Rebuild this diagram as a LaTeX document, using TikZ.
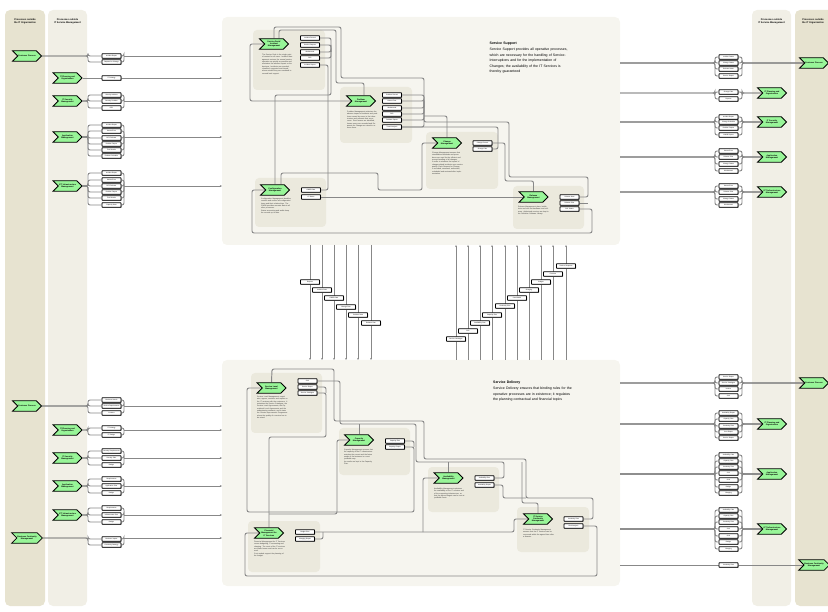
\documentclass[tikz,border=0pt]{standalone}
\usepackage{fontspec}
\setmainfont{Liberation Sans}
\usetikzlibrary{shapes.symbols,shadows,arrows.meta}

\definecolor{orglane}{HTML}{E7E3D0}
\definecolor{itsmlane}{HTML}{F1EFE6}
\definecolor{areafill}{HTML}{F6F5EF}
\definecolor{groupfill}{HTML}{EBE9DD}
\definecolor{procgreen}{HTML}{98F598}
\definecolor{flowgray}{HTML}{888888}

\pgfdeclarelayer{back}
\pgfdeclarelayer{lines}
\pgfsetlayers{back,lines,main}

\tikzset{
  proc/.style={signal, signal to=east, signal from=west, draw=black,
    line width=0.8pt, fill=procgreen, minimum width=29pt, minimum height=10.5pt,
    inner sep=0.4pt, align=center, font=\fontsize{2}{2.4}\selectfont\bfseries},
  doc/.style={draw=black, line width=0.85pt, fill=white, rounded corners=0.6pt,
    minimum width=19pt, minimum height=4.6pt, inner sep=0.2pt, text width=17pt,
    align=center, font=\fontsize{1.6}{1.8}\selectfont,
    drop shadow={shadow xshift=0.5pt, shadow yshift=-0.6pt, fill=black!50, opacity=1}},
  flow/.style={draw=flowgray, line width=0.95pt, rounded corners=2pt},
  feed/.style={flow, -{Stealth[length=2.2pt, width=2pt]}},
  pass/.style={draw=flowgray, line width=0.7pt, -{Stealth[length=2pt, width=1.8pt]}},
  note/.style={anchor=north west, text width=31pt, inner sep=0pt, align=left,
    text=black!80, font=\fontsize{1.8}{2.35}\selectfont},
  lanehead/.style={anchor=north, align=center, font=\fontsize{2.4}{2.9}\selectfont\bfseries},
  lane/.style={rounded corners=5pt},
  group/.style={fill=groupfill, rounded corners=4pt},
  area/.style={fill=areafill, rounded corners=5pt},
  intro/.style={anchor=north west, text width=100pt, inner sep=0pt, align=left,
    font=\fontsize{3.5}{5.5}\selectfont}
}

\begin{document}
\begin{tikzpicture}[x=1pt, y=-1pt]
\useasboundingbox (0,0) rectangle (828,612);

\begin{pgfonlayer}{back}
  % lanes
  \fill[orglane, lane] (5,10) rectangle (45,606);
  \fill[itsmlane, lane] (48,10) rectangle (87,606);
  \fill[itsmlane, lane] (752,10) rectangle (791,606);
  \fill[orglane, lane] (795,10) rectangle (836,606);
  % support and delivery areas
  \fill[area] (222,17) rectangle (620,245);
  \fill[area] (222,360) rectangle (620,586);
  % process groups
  \fill[group] (253,30) rectangle (325,90);
  \fill[group] (340,87) rectangle (412,143);
  \fill[group] (426,132) rectangle (498,189);
  \fill[group] (255,178) rectangle (326,227);
  \fill[group] (513,186) rectangle (584,229);
  \fill[group] (251,373) rectangle (322,433);
  \fill[group] (339,428) rectangle (410,475);
  \fill[group] (428,467) rectangle (499,512);
  \fill[group] (517,507) rectangle (589,552);
  \fill[group] (248,521) rectangle (320,572);
\end{pgfonlayer}

\node[lanehead] (hdA) at (25,15) {Processes outside\\the IT Organisation};
\node[lanehead] (hdB) at (67.5,15) {Processes outside\\IT Service Management};
\node[lanehead] (hdC) at (771.5,15) {Processes outside\\IT Service Management};
\node[lanehead] (hdD) at (813,15) {Processes outside\\the IT Organisation};

% processes outside, left
\node[proc] (custA) at (27,56) {Customer Process};
\node[proc] (itpA) at (67.5,78) {IT Planning and\\Organisation};
\node[proc] (secA) at (67.5,101) {IT Security\\Management};
\node[proc] (appA) at (67.5,137) {Application\\Management};
\node[proc] (ictA) at (67.5,186) {ICT Infrastructure\\Management};
\node[proc] (custB) at (27,406) {Customer Process};
\node[proc] (itpB) at (67.5,430) {IT Planning and\\Organisation};
\node[proc] (secB) at (67.5,458) {IT Security\\Management};
\node[proc] (appB) at (67.5,486) {Application\\Management};
\node[proc] (ictB) at (67.5,515) {ICT Infrastructure\\Management};
\node[proc] (bcmB) at (27,538) {Business Continuity\\Management};
% processes outside, right
\node[proc] (custC) at (814,63) {Customer Process};
\node[proc] (itpC) at (772,93) {IT Planning and\\Organisation};
\node[proc] (secC) at (772,122) {IT Security\\Management};
\node[proc] (appC) at (772,157) {Application\\Management};
\node[proc] (ictC) at (772,192) {ICT Infrastructure\\Management};
\node[proc] (custD) at (814,383) {Customer Process};
\node[proc] (itpD) at (772,424) {IT Planning and\\Organisation};
\node[proc] (appD) at (772,474) {Application\\Management};
\node[proc] (ictD) at (772,529) {ICT Infrastructure\\Management};
\node[proc] (bcmD) at (814,565) {Business Continuity\\Management};

% documents going in, left
\foreach \y/\t [count=\i] in {56/Incident Report,62/Request for Change}
  \node[doc] (ca\i) at (111.5,\y) {\t};
\node[doc] (ia1) at (111.5,78) {IT Strategy};
\foreach \y/\t [count=\i] in {95/Security Incident,101/Security Problem,108/RFC}
  \node[doc] (sa\i) at (111.5,\y) {\t};
\foreach \y/\t [count=\i] in {125/Incident Report,131/Known Error,138/RFC Release,144/Problem Report,150/Test Results,156/Release Schedule}
  \node[doc] (aa\i) at (111.5,\y) {\t};
\foreach \y/\t [count=\i] in {173/Incident Report,180/Known Error,186/RFC Release,192/Problem Report,198/Test Results,205/Capacity Data}
  \node[doc] (ta\i) at (111.5,\y) {\t};
\foreach \y/\t [count=\i] in {400/Business Needs,406/Service Requirements,413/Contract}
  \node[doc] (cb\i) at (111.5,\y) {\t};
\foreach \y/\t [count=\i] in {428/IT Strategy,435/IT Budget}
  \node[doc] (ib\i) at (111.5,\y) {\t};
\foreach \y/\t [count=\i] in {451/Security Requirements,458/Security Plan,465/Budget}
  \node[doc] (sb\i) at (111.5,\y) {\t};
\foreach \y/\t [count=\i] in {479/Requirements,486/Application Plan,493/Budget}
  \node[doc] (ab\i) at (111.5,\y) {\t};
\foreach \y/\t [count=\i] in {508/Requirements,515/Infrastructure Plan,522/Budget}
  \node[doc] (tb\i) at (111.5,\y) {\t};
\foreach \y/\t [count=\i] in {539/Business Impact,545/Continuity Strategy}
  \node[doc] (bb\i) at (111.5,\y) {\t};

% documents going out, right
\foreach \y/\t [count=\i] in {57/Incident Status,63/Change Status,69/Release Notes,76/Service Report}
  \node[doc] (cc\i) at (728.5,\y) {\t};
\foreach \y/\t [count=\i] in {92/Change Plan,99/Reports}
  \node[doc] (ic\i) at (728.5,\y) {\t};
\foreach \y/\t [count=\i] in {117/Incident Report,122/Change Schedule,128/Problem Report,135/CMDB Report}
  \node[doc] (sc\i) at (728.5,\y) {\t};
\foreach \y/\t [count=\i] in {151/Known Error,157/Release Plan,164/Change Status,171/Workaround}
  \node[doc] (ac\i) at (728.5,\y) {\t};
\foreach \y/\t [count=\i] in {186/Known Error,192/Release Plan,199/Change Status,205/Workaround}
  \node[doc] (tc\i) at (728.5,\y) {\t};
\foreach \y/\t [count=\i] in {377/Service Report,383/Service Catalogue,389/Invoice,396/SLA}
  \node[doc] (cd\i) at (728.5,\y) {\t};
\foreach \y/\t [count=\i] in {413/Availability Report,419/Capacity Plan,426/Continuity Plan,432/Cost Report,438/Service Report}
  \node[doc] (id\i) at (728.5,\y) {\t};
\foreach \y/\t [count=\i] in {455/Availability Plan,461/Capacity Plan,467/Continuity Plan,473/SLA,480/OLA,487/Budget,493/Charging}
  \node[doc] (ad\i) at (728.5,\y) {\t};
\foreach \y/\t [count=\i] in {510/Availability Plan,516/Capacity Plan,522/Continuity Plan,529/SLA,536/OLA,542/Budget,549/Charging}
  \node[doc] (td\i) at (728.5,\y) {\t};
\node[doc] (bd1) at (728.5,565) {Continuity Plan};

% service support
\node[proc] (sd) at (274,44) {Service Desk/\\Incident\\Management};
\node[proc] (pm) at (361,101) {Problem\\Management};
\node[proc] (cm) at (447,143) {Change\\Management};
\node[proc] (cfg) at (275,190) {Configuration\\Management};
\node[proc] (rm) at (533.5,197) {Release\\Management};
\foreach \y/\t [count=\i] in {38/Incident Record,45/Service Request,52/Workaround,58/RFC,65/Incident Report}
  \node[doc] (sdd\i) at (310,\y) {\t};
\foreach \y/\t [count=\i] in {95/Problem Record,101/Known Error,108/Workaround,114/RFC,120/Problem Report,127/Trend Analysis}
  \node[doc] (pmd\i) at (392,\y) {\t};
\foreach \y/\t [count=\i] in {143/Change Record,149/Change Plan}
  \node[doc] (cmd\i) at (482.5,\y) {\t};
\foreach \y/\t [count=\i] in {190/CMDB Data,197/CI Status}
  \node[doc] (cfd\i) at (311,\y) {\t};
\foreach \y/\t [count=\i] in {197/Release Note,203/Release Plan,209/DSL Status}
  \node[doc] (rmd\i) at (569.5,\y) {\t};

\node[note] (sdn) at (262,54) {The Service Desk is the single point of contact for all users. Incident Management restores the normal service operation as quickly as possible and minimises the adverse impact on the business. Incidents are recorded, classified, supported and closed; where needed they are escalated to second level support.};
\node[note] (pmn) at (347,111) {Problem Management minimises the adverse impact of incidents and problems caused by errors in the infrastructure and prevents their recurrence. Root causes are identified, known errors are recorded and Requests for Change are raised to remove them.};
\node[note] (cmn) at (432,152) {Change Management ensures that standardised methods and procedures are used for the efficient and prompt handling of all changes, in order to minimise the impact of change-related incidents upon service quality. Each Request for Change is recorded, assessed, authorised, scheduled and reviewed after implementation.};
\node[note] (cfgn) at (261,198) {Configuration Management identifies, controls and verifies all configuration items and their relationships. The CMDB provides accurate data to all other processes.\par Status accounting and audits keep the records up to date.};
\node[note] (rmn) at (518,206) {Release Management plans, builds, tests and rolls out hardware and software. Authorised versions are kept in the Definitive Software Library.};

\node[intro] (sst) at (489.5,42) {\textbf{Service Support}\\[0.5pt]
  Service Support provides all operative processes,\\
  which are necessary for the handling of Service-\\
  Interruptions and for the implementation of\\
  Changes; the availability of the IT Services is\\
  thereby guaranteed};

% service delivery
\node[proc] (slm) at (271.5,388) {Service Level\\Management};
\node[proc] (cap) at (359,440) {Capacity\\Management};
\node[proc] (avm) at (448.5,478) {Availability\\Management};
\node[proc] (itscm) at (538,519) {IT Service\\Continuity\\Management};
\node[proc] (fin) at (269,533) {Financial\\Management for\\IT Services};
\foreach \y/\t [count=\i] in {381/SLA,387/Service Report,393/Service Catalogue}
  \node[doc] (slmd\i) at (307.5,\y) {\t};
\foreach \y/\t [count=\i] in {441/Capacity Plan,447/Capacity Report}
  \node[doc] (capd\i) at (395,\y) {\t};
\foreach \y/\t [count=\i] in {478/Availability Plan,485/Availability Report}
  \node[doc] (avd\i) at (484.5,\y) {\t};
\foreach \y/\t [count=\i] in {519/Continuity Plan,526/Risk Analysis}
  \node[doc] (itd\i) at (573.5,\y) {\t};
\foreach \y/\t [count=\i] in {532/Budget Plan,539/Charging Report}
  \node[doc] (find\i) at (305,\y) {\t};

\node[note] (slmn) at (257,396) {Service Level Management negotiates, agrees, monitors and reports on the IT services with the customers. It maintains the Service Catalogue, the Service Level Agreements, the Operational Level Agreements and the underpinning contracts, and it starts the Service Improvement Programme where the quality of a service has to be raised.};
\node[note] (capn) at (344,449) {Capacity Management ensures that the capacity of the IT infrastructure matches the current and the future needs of the business in a cost-justifiable way.\par Its results are kept in the Capacity Plan.};
\node[note] (avmn) at (434,488) {Availability Management optimises the availability of the IT services and of the supporting infrastructure, so that the agreed targets can be met at justifiable costs.};
\node[note] (itscmn) at (523,529) {IT Service Continuity Management ensures that the IT services can be recovered within the agreed time after a disaster.};
\node[note] (finn) at (254,541) {Financial Management for IT Services covers budgeting, IT accounting and charging. The costs of the IT services are made known and can be recovered.\par Cost models support the planning of the budget.};

\node[intro] (sdt) at (493,381) {\textbf{Service Delivery}\\[0.5pt]
  Service Delivery ensures that binding rules for the\\
  operative processes are in existence; it regulates\\
  the planning contractual and financial topics};

% documents passed between support and delivery
\foreach \x/\y/\t [count=\i] in {310/282/Reports,322/290/Incident Data,334/298/CMDB Data,346/307/Change Plan,358/315/Problem Data,371/323/Release Plan} {
  \coordinate (upS\i) at (\x,245);
  \coordinate (upD\i) at (\x,360);
  \node[doc] (dn\i) at (\x,\y) {\t};
}
\foreach \x/\y/\t [count=\i] in {456/339/Service Catalogue,468/331/SLA,480/323/Availability Plan,492/315/Capacity Plan,505/306/Continuity Plan,517/298/Cost Model,529/290/Charging,541/282/Budget,553/274/Forecast,566/266/Service Requests} {
  \coordinate (loS\i) at (\x,245);
  \coordinate (loD\i) at (\x,360);
  \node[doc] (up\i) at (\x,\y) {\t};
}

% edges of the areas
\coordinate (inS1) at (222,56);  \coordinate (inS2) at (222,78);
\coordinate (inS3) at (222,101); \coordinate (inS4) at (222,137);
\coordinate (inS5) at (222,186);
\coordinate (inD1) at (222,406); \coordinate (inD2) at (222,430);
\coordinate (inD3) at (222,458); \coordinate (inD4) at (222,486);
\coordinate (inD5) at (222,515); \coordinate (inD6) at (222,538);
\coordinate (outS1) at (620,63);  \coordinate (outS2) at (620,93);
\coordinate (outS3) at (620,122); \coordinate (outS4) at (620,157);
\coordinate (outS5) at (620,192);
\coordinate (outD1) at (620,383); \coordinate (outD2) at (620,424);
\coordinate (outD3) at (620,474); \coordinate (outD4) at (620,529);
\coordinate (outD5) at (620,565);

\begin{pgfonlayer}{lines}
  % left feeds into service support
  \foreach \i in {1,2} {\draw[flow] (custA.east) -- (88,56) |- (ca\i.west); \draw[flow] (ca\i.east) -| (124,56);}
  \draw[feed] (124,56) -- (inS1);
  \draw[flow] (itpA.east) -- (ia1.west);
  \draw[feed] (ia1.east) -- (inS2);
  \foreach \i in {1,2,3} {\draw[flow] (secA.east) -- (88,101) |- (sa\i.west); \draw[flow] (sa\i.east) -| (124,101);}
  \draw[feed] (124,101) -- (inS3);
  \foreach \i in {1,...,6} {\draw[flow] (appA.east) -- (88,137) |- (aa\i.west); \draw[flow] (aa\i.east) -| (124,137);}
  \draw[feed] (124,137) -- (inS4);
  \foreach \i in {1,...,6} {\draw[flow] (ictA.east) -- (88,186) |- (ta\i.west); \draw[flow] (ta\i.east) -| (124,186);}
  \draw[feed] (124,186) -- (inS5);
  % left feeds into service delivery
  \foreach \i in {1,2,3} {\draw[flow] (custB.east) -- (88,406) |- (cb\i.west); \draw[flow] (cb\i.east) -| (124,406);}
  \draw[feed] (124,406) -- (inD1);
  \foreach \i in {1,2} {\draw[flow] (itpB.east) -- (88,430) |- (ib\i.west); \draw[flow] (ib\i.east) -| (124,430);}
  \draw[feed] (124,430) -- (inD2);
  \foreach \i in {1,2,3} {\draw[flow] (secB.east) -- (88,458) |- (sb\i.west); \draw[flow] (sb\i.east) -| (124,458);}
  \draw[feed] (124,458) -- (inD3);
  \foreach \i in {1,2,3} {\draw[flow] (appB.east) -- (88,486) |- (ab\i.west); \draw[flow] (ab\i.east) -| (124,486);}
  \draw[feed] (124,486) -- (inD4);
  \foreach \i in {1,2,3} {\draw[flow] (ictB.east) -- (88,515) |- (tb\i.west); \draw[flow] (tb\i.east) -| (124,515);}
  \draw[feed] (124,515) -- (inD5);
  \foreach \i in {1,2} {\draw[flow] (bcmB.east) -- (88,538) |- (bb\i.west); \draw[flow] (bb\i.east) -| (124,538);}
  \draw[feed] (124,538) -- (inD6);

  % right, out of service support
  \foreach \i in {1,...,4} {\draw[flow] (outS1) -- (715,63) |- (cc\i.west); \draw[flow] (cc\i.east) -| (742,63) -- (custC.west);}
  \foreach \i in {1,2} {\draw[flow] (outS2) -- (715,93) |- (ic\i.west); \draw[flow] (ic\i.east) -| (742,93) -- (itpC.west);}
  \foreach \i in {1,...,4} {\draw[flow] (outS3) -- (715,122) |- (sc\i.west); \draw[flow] (sc\i.east) -| (742,122) -- (secC.west);}
  \foreach \i in {1,...,4} {\draw[flow] (outS4) -- (715,157) |- (ac\i.west); \draw[flow] (ac\i.east) -| (742,157) -- (appC.west);}
  \foreach \i in {1,...,4} {\draw[flow] (outS5) -- (715,192) |- (tc\i.west); \draw[flow] (tc\i.east) -| (742,192) -- (ictC.west);}
  % right, out of service delivery
  \foreach \i in {1,...,4} {\draw[flow] (outD1) -- (715,383) |- (cd\i.west); \draw[flow] (cd\i.east) -| (742,383) -- (custD.west);}
  \foreach \i in {1,...,5} {\draw[flow] (outD2) -- (715,424) |- (id\i.west); \draw[flow] (id\i.east) -| (742,424) -- (itpD.west);}
  \foreach \i in {1,...,7} {\draw[flow] (outD3) -- (715,474) |- (ad\i.west); \draw[flow] (ad\i.east) -| (742,474) -- (appD.west);}
  \foreach \i in {1,...,7} {\draw[flow] (outD4) -- (715,529) |- (td\i.west); \draw[flow] (td\i.east) -| (742,529) -- (ictD.west);}
  \draw[flow] (outD5) -- (bd1.west);
  \draw[flow] (bd1.east) -- (bcmD.west);

  % between the areas
  \foreach \i in {1,...,6} \draw[pass] (upS\i) -- (upD\i);
  \foreach \i in {1,...,10} \draw[pass] (loD\i) -- (loS\i);

  % inside service support
  \draw[flow] (sd.west) -- (250,44) -- (250,101) -- (pm.west);
  \draw[flow] (sd.north) -- (274,27) -- (341,27) -- (341,78) -- (424,78) -- (424,122)
    -- (509,122) -- (509,177) -- (588,177) -- (588,197) -- (rmd1.east);
  \draw[flow] ([xshift=5pt]sd.north) -- (279,30) -- (336,30) -- (336,83) -- (364,83) -- ([xshift=3pt]pm.north);
  \foreach \i in {1,...,4} \draw[flow] (sdd\i.east) -| (331,52);
  \draw[flow] (sdd5.east) -- (328,65) -- (328,190) -- (cfd1.east);
  \draw[flow] (cfg.north) -- (275,95) -- (331,95) -- (331,45);
  \draw[flow] ([xshift=6pt]cfg.north) -- (281,173) -- (378,173) -- (378,190) -- (422,190) -- (422,143) -- (cm.west);
  \draw[flow] (cfd2.east) -- (rm.west);
  \foreach \i in {1,...,6} \draw[flow] (pmd\i.east) -| (424,101);
  \draw[flow] (cm.north) -- (447,116) -- (424,116);
  \draw[flow] (cmd1.east) -- (505,143) -- (505,181) -- (533.5,181) -- (rm.north);
  \draw[flow] (cmd2.east) -- (498,149) -- (498,127) -- (pmd6.east);
  \draw[flow] (rmd2.east) -- (588,203);
  \draw[flow] (cfg.west) -- (252,190) -- (252,233) -- (592,233) -- (592,209) -- (rmd3.east);

  % inside service delivery
  \draw[flow] (slm.north) -- (272,369) -- (334,369) -- (334,421) -- (424,421) -- (424,459)
    -- (526,459) -- (526,498) -- (593,498) -- (593,519) -- (itd1.east);
  \draw[flow] (slm.west) -- (247,388) -- (247,512) -- (414,512) -- (414,447) -- (capd2.east);
  \draw[flow] (capd1.east) -| (414,447);
  \draw[flow] (slmd3.east) -- (326,393) -- (326,437) -- (269,437) -- (fin.north);
  \draw[flow] (slmd2.east) -| (326,393);
  \draw[flow] (slmd1.east) -- (340,381) -- (340,424) -- (416,424) -- (416,462) -- (504,462) -- (504,478) -- (avd1.east);
  \draw[flow] (cap.north) -- (359,424);
  \draw[flow] (cap.west) -- (337,440) -- (337,514) -- (269,514);
  \draw[flow] (find1.east) -- (514,532) -- (514,519) -- (itscm.west);
  \draw[flow] (find2.east) -- (323,539) -- (323,532);
  \draw[flow] (fin.west) -- (245,533) -- (245,576) -- (597,576) -- (597,526) -- (itd2.east);
  \draw[flow] (avm.north) -- (448.5,462);
  \draw[flow] (avm.west) -- (423,478) -- (423,532);
  \draw[flow] (itscm.north) -- (538,503) -- (522,503) -- (522,462);
  \draw[flow] (avd2.east) -- (503,485) -- (503,498) -- (526,498);
\end{pgfonlayer}
\end{tikzpicture}
\end{document}
